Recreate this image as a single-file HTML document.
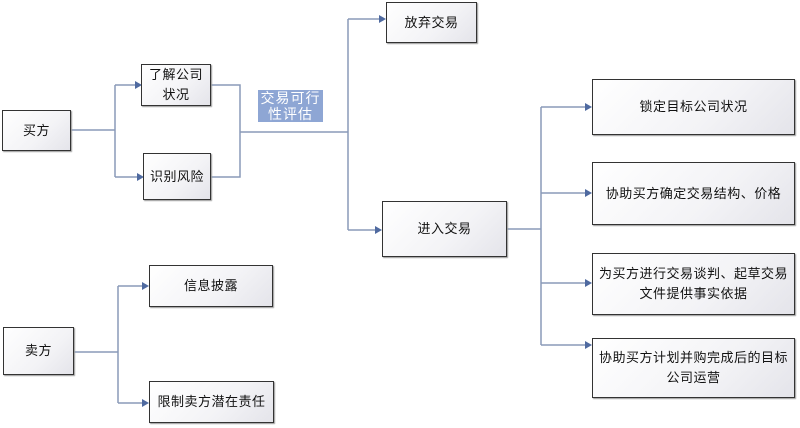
<!DOCTYPE html>
<html><head><meta charset="utf-8"><style>
body{margin:0;width:800px;height:428px;background:#fff;position:relative;overflow:hidden;font-family:"Liberation Sans","Noto Sans CJK SC",sans-serif;}
.b{position:absolute;box-sizing:border-box;border:1px solid #333;background:linear-gradient(135deg,#fff 0%,#f3f3f6 60%,#e4e4ea 100%);box-shadow:1px 1px 1px #999;display:flex;align-items:center;justify-content:center;text-align:center;font-size:13px;letter-spacing:0.5px;color:#111;line-height:20px;}
svg{position:absolute;left:0;top:0;}
.lbl{position:absolute;left:258px;top:90px;width:65px;height:32px;background:#8ea6d4;color:#fff;font-size:14px;letter-spacing:1px;line-height:16px;text-align:center;}
</style></head><body>
<svg width="800" height="428"><g stroke="#8a9ab8" stroke-width="1.5" fill="none">
<path d="M71 130H115M115 85V177M115 85H138M115 177H140"/>
<path d="M211 85H240V177H211M240 132H348M348 19V230M348 19H383M348 230H379"/>
<path d="M507 229H541M541 107V345M541 107H589M541 193H589M541 283H589M541 345H589"/>
<path d="M74 352H118M118 286V403M118 286H146M118 403H146"/>
</g><g fill="#4f6aa0">
<path d="M135 81L142 85L135 89Z"/>
<path d="M137 173L144 177L137 181Z"/>
<path d="M379 15L386 19L379 23Z"/>
<path d="M375 226L382 230L375 234Z"/>
<path d="M585 103L592 107L585 111Z"/>
<path d="M585 189L592 193L585 197Z"/>
<path d="M585 279L592 283L585 287Z"/>
<path d="M585 341L592 345L585 349Z"/>
<path d="M142 282L149 286L142 290Z"/>
<path d="M142 399L149 403L142 407Z"/>
</g></svg>
<div class="b" style="left:2px;top:110px;width:69px;height:41px">买方</div>
<div class="b" style="left:141px;top:64px;width:70px;height:42px">了解公司<br>状况</div>
<div class="b" style="left:143px;top:153px;width:68px;height:47px">识别风险</div>
<div class="lbl">交易可行<br>性评估</div>
<div class="b" style="left:386px;top:2px;width:91px;height:41px">放弃交易</div>
<div class="b" style="left:382px;top:201px;width:125px;height:56px">进入交易</div>
<div class="b" style="left:592px;top:79px;width:203px;height:56px">锁定目标公司状况</div>
<div class="b" style="left:592px;top:162px;width:203px;height:63px">协助买方确定交易结构、价格</div>
<div class="b" style="left:592px;top:253px;width:203px;height:62px">为买方进行交易谈判、起草交易<br>文件提供事实依据</div>
<div class="b" style="left:592px;top:338px;width:203px;height:60px">协助买方计划并购完成后的目标<br>公司运营</div>
<div class="b" style="left:3px;top:327px;width:71px;height:48px">卖方</div>
<div class="b" style="left:149px;top:265px;width:124px;height:42px">信息披露</div>
<div class="b" style="left:149px;top:381px;width:125px;height:42px">限制卖方潜在责任</div>
</body></html>
